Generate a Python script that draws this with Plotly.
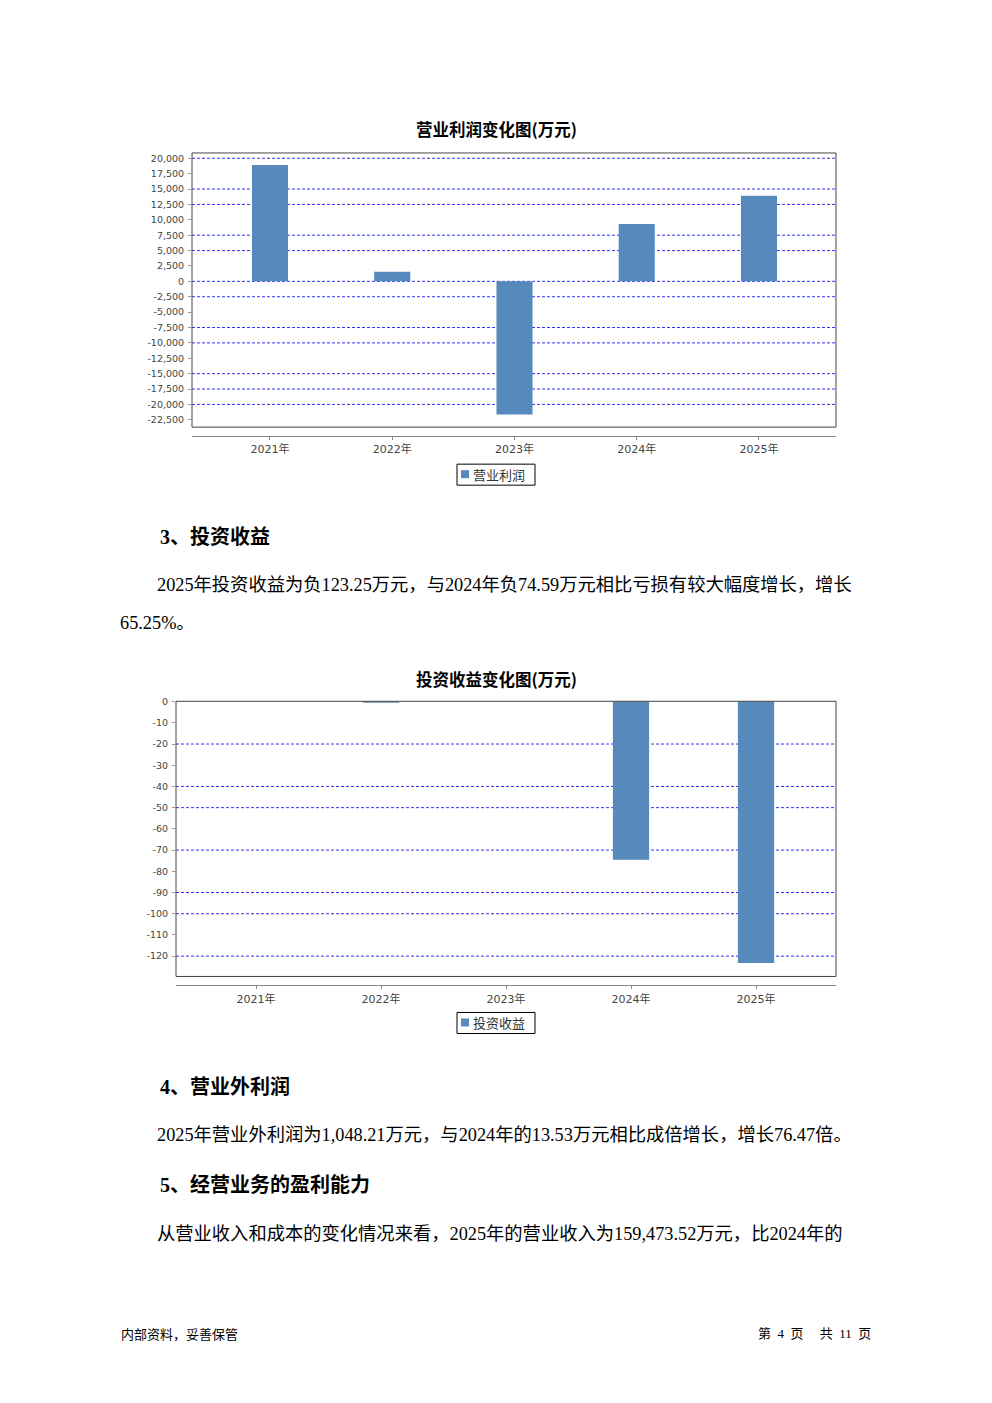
import plotly.graph_objects as go

W, H = 992, 1403

# ---------------- data ----------------
years = ["2021年", "2022年", "2023年", "2024年", "2025年"]
op_profit = [18900, 1560, -21630, 9320, 13920]          # 营业利润 (万元)
invest_income = [0, -0.5, 0, -74.59, -123.25]            # 投资收益 (万元)

op_ticks = list(range(-22500, 20001, 2500))
inv_ticks = list(range(-120, 1, 10))

# grid lines that are visible in the reference picture
op_grid_shown = [20000, 15000, 12500, 7500, 5000, 0, -2500, -7500, -10000,
                 -15000, -17500, -20000]
inv_grid_shown = [-20, -40, -50, -70, -90, -100, -120]

title1 = "营业利润变化图(万元)"
title2 = "投资收益变化图(万元)"
series1 = "营业利润"
series2 = "投资收益"


def px(x):
    return x / W


def py(y):
    # small vertical correction measured against the reference page
    if y < 1233:
        y = y - 4.5 * (1233 - y) / 1080.0
    return 1 - y / H


BAR = "rgb(86,137,188)"
GRID = "rgb(50,50,255)"
TICKC = "#444444"
SANS = "DejaVu Sans, Noto Sans CJK SC"
BODY = "Liberation Serif, Noto Sans CJK SC"

fig = go.Figure()
fig.add_trace(go.Bar(x=years, y=op_profit, width=0.295, name=series1,
                     marker=dict(color=BAR, line=dict(width=0)),
                     xaxis="x", yaxis="y", showlegend=False, hoverinfo="skip"))
fig.add_trace(go.Bar(x=years, y=invest_income, width=0.29, name=series2,
                     marker=dict(color=BAR, line=dict(width=0)),
                     xaxis="x2", yaxis="y2", showlegend=False, hoverinfo="skip"))

# pixel geometry of the two plot areas
k1 = 123 / 20000.0       # px per unit, chart 1
z1 = 281.3               # pixel row of zero, chart 1
k2 = 2.12                # px per unit, chart 2
z2 = 701.3

xaxis_common = dict(type="category", showgrid=False, zeroline=False,
                    showline=True, linecolor="#888888", linewidth=1,
                    ticks="outside", ticklen=3, tickcolor="#888888",
                    tickfont=dict(family=SANS, size=11, color=TICKC),
                    fixedrange=True)
yaxis_common = dict(showgrid=False, zeroline=False, showline=False,
                    ticks="outside", ticklen=3, tickcolor="#999999",
                    tickfont=dict(family=SANS, size=9.5, color=TICKC),
                    ticklabelstandoff=2,
                    fixedrange=True, tickmode="array")

fig.update_layout(
    width=W, height=H,
    margin=dict(l=0, r=0, t=0, b=0),
    paper_bgcolor="white", plot_bgcolor="rgba(0,0,0,0)",
    showlegend=False,
    xaxis=dict(xaxis_common, domain=[px(192), px(836)], anchor="y",
               range=[-0.638, 4.63]),
    yaxis=dict(yaxis_common, domain=[py(436), py(153)], anchor="x",
               range=[-(436 - z1) / k1, (z1 - 153) / k1],
               tickvals=op_ticks, ticktext=[f"{v:,}" for v in op_ticks]),
    xaxis2=dict(xaxis_common, domain=[px(176), px(836)], anchor="y2",
                range=[-0.64, 4.64]),
    yaxis2=dict(yaxis_common, domain=[py(985), py(701)], anchor="x2",
                range=[-(985 - z2) / k2, (z2 - 701) / k2],
                tickvals=inv_ticks, ticktext=[f"{v:,}" for v in inv_ticks]),
)

shapes = []
# grid lines
for v in op_grid_shown:
    shapes.append(dict(type="line", xref="x domain", x0=0, x1=1, yref="y",
                       y0=v, y1=v, layer="below",
                       line=dict(color=GRID, width=1, dash="3px,2px")))
for v in inv_grid_shown:
    shapes.append(dict(type="line", xref="x2 domain", x0=0, x1=1, yref="y2",
                       y0=v, y1=v, layer="below",
                       line=dict(color=GRID, width=1, dash="3px,2px")))
# plot boxes
shapes.append(dict(type="rect", xref="paper", yref="paper",
                   x0=px(192), x1=px(836), y0=py(427), y1=py(153),
                   line=dict(color="#444444", width=1)))
shapes.append(dict(type="rect", xref="paper", yref="paper",
                   x0=px(176), x1=px(836), y0=py(976), y1=py(701),
                   line=dict(color="#444444", width=1)))

ann = []


def text(t, x, y, size, family=BODY, bold=False, anchor="left", color="black"):
    ann.append(dict(text=t, x=px(x), y=py(y), xref="paper", yref="paper",
                    xanchor=anchor, yanchor="middle", showarrow=False,
                    font=dict(family=family, size=size, color=color,
                              weight="bold" if bold else "normal")))


def legend_box(label, top):
    # hand-drawn legend box matching the reference style
    shapes.append(dict(type="rect", xref="paper", yref="paper",
                       x0=px(457), x1=px(535), y0=py(top + 21), y1=py(top),
                       line=dict(color="black", width=1), fillcolor="white"))
    shapes.append(dict(type="rect", xref="paper", yref="paper",
                       x0=px(461), x1=px(469), y0=py(top + 14), y1=py(top + 6),
                       line=dict(width=0), fillcolor=BAR))
    text(label, 471, top + 10.5, 13, family="Noto Sans CJK SC", color="#333333")


legend_box(series1, 464)
legend_box(series2, 1012)

text(title1, 496, 129.5, 16.5, family="Noto Sans CJK SC", bold=True, anchor="center")
text(title2, 496, 678.5, 16.5, family="Noto Sans CJK SC", bold=True, anchor="center")

text("3、投资收益", 158, 537, 20, bold=True)
text("2025年投资收益为负123.25万元，与2024年负74.59万元相比亏损有较大幅度增长，增长",
     155, 585, 18.3)
text("65.25%。", 118, 623, 18.3)
text("4、营业外利润", 158, 1086, 20, bold=True)
text("2025年营业外利润为1,048.21万元，与2024年的13.53万元相比成倍增长，增长76.47倍。",
     155, 1134, 18.3)
text("5、经营业务的盈利能力", 158, 1184, 20, bold=True)
text("从营业收入和成本的变化情况来看，2025年的营业收入为159,473.52万元，比2024年的",
     155, 1233, 18.3)

text("内部资料，妥善保管", 119, 1333, 13, family="Noto Sans CJK SC")
text("第\u00a0\u00a04\u00a0\u00a0页\u00a0\u00a0\u00a0\u00a0\u00a0共\u00a0\u00a011\u00a0\u00a0页",
     873, 1333, 13, family="Liberation Serif, Noto Sans CJK SC", anchor="right")

fig.update_layout(shapes=shapes, annotations=ann)

fig.write_html("out.html",
               config={"displayModeBar": False, "staticPlot": True},
               post_script="document.body.style.margin='0';"
                           "document.body.style.padding='0';")
